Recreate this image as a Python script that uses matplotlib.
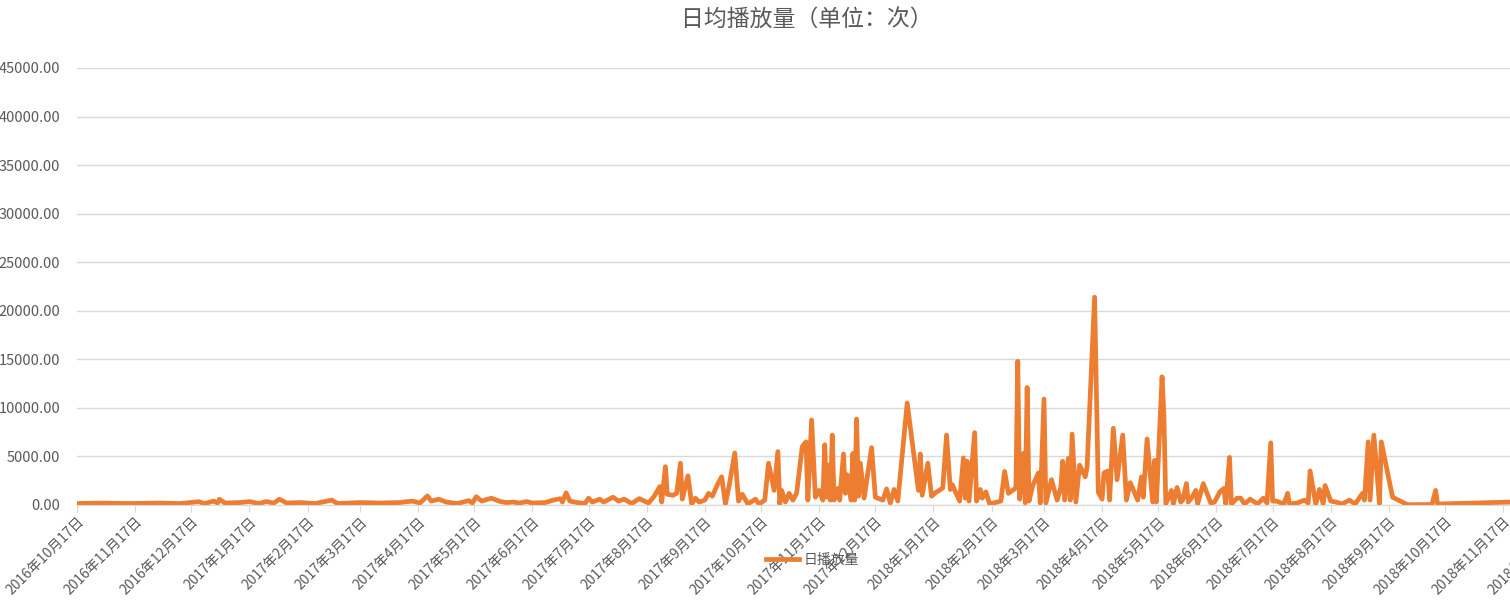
import matplotlib
matplotlib.use("Agg")
import matplotlib.pyplot as plt
import matplotlib.dates as mdates
import pandas as pd

plt.rcParams['font.family'] = ['Noto Sans CJK SC', 'DejaVu Sans']

dates = [
    "2016-10-17", "2016-10-29", "2016-11-14", "2016-11-30", "2016-12-11", "2016-12-21",
    "2016-12-24", "2016-12-29", "2016-12-31", "2017-01-01", "2017-01-04", "2017-01-12",
    "2017-01-17", "2017-01-22", "2017-01-26", "2017-01-30", "2017-02-02", "2017-02-06",
    "2017-02-13", "2017-02-21", "2017-03-02", "2017-03-05", "2017-03-17", "2017-03-28",
    "2017-04-07", "2017-04-14", "2017-04-18", "2017-04-22", "2017-04-24", "2017-04-28",
    "2017-05-02", "2017-05-08", "2017-05-11", "2017-05-14", "2017-05-16", "2017-05-18",
    "2017-05-21", "2017-05-26", "2017-05-31", "2017-06-03", "2017-06-07", "2017-06-10",
    "2017-06-14", "2017-06-17", "2017-06-24", "2017-06-28", "2017-07-02", "2017-07-03",
    "2017-07-05", "2017-07-07", "2017-07-11", "2017-07-15", "2017-07-17", "2017-07-19",
    "2017-07-23", "2017-07-25", "2017-07-27", "2017-07-30", "2017-08-02",
    "2017-08-05", "2017-08-09", "2017-08-13", "2017-08-18",
    "2017-08-21", "2017-08-24", "2017-08-25", "2017-08-27", "2017-08-28", "2017-08-31",
    "2017-09-02", "2017-09-04", "2017-09-05", "2017-09-08", "2017-09-10", "2017-09-12",
    "2017-09-14", "2017-09-17", "2017-09-19", "2017-09-21", "2017-09-24", "2017-09-26",
    "2017-09-28", "2017-09-30", "2017-10-03", "2017-10-05", "2017-10-07", "2017-10-10",
    "2017-10-14", "2017-10-16", "2017-10-19", "2017-10-21", "2017-10-24", "2017-10-26",
    "2017-10-27", "2017-10-28", "2017-10-30", "2017-11-01", "2017-11-03", "2017-11-05",
    "2017-11-08", "2017-11-10", "2017-11-11", "2017-11-13", "2017-11-15", "2017-11-17",
    "2017-11-19", "2017-11-20", "2017-11-21", "2017-11-22", "2017-11-23", "2017-11-24",
    "2017-11-25", "2017-11-27", "2017-11-28", "2017-11-30", "2017-12-01", "2017-12-02",
    "2017-12-04", "2017-12-05", "2017-12-06", "2017-12-07", "2017-12-08", "2017-12-09",
    "2017-12-11", "2017-12-15", "2017-12-17", "2017-12-21", "2017-12-23", "2017-12-25",
    "2017-12-27", "2017-12-29", "2018-01-03", "2018-01-09", "2018-01-10", "2018-01-11",
    "2018-01-14", "2018-01-16", "2018-01-18", "2018-01-22", "2018-01-24", "2018-01-26",
    "2018-01-27", "2018-01-31", "2018-02-02", "2018-02-03", "2018-02-04", "2018-02-05",
    "2018-02-08", "2018-02-09", "2018-02-11", "2018-02-12", "2018-02-14", "2018-02-16",
    "2018-02-22", "2018-02-24", "2018-02-26", "2018-03-02", "2018-03-03", "2018-03-04",
    "2018-03-06", "2018-03-07", "2018-03-08", "2018-03-09", "2018-03-11", "2018-03-14",
    "2018-03-15", "2018-03-17", "2018-03-18", "2018-03-21", "2018-03-24", "2018-03-26",
    "2018-03-27", "2018-03-28", "2018-03-30", "2018-03-31", "2018-04-01", "2018-04-03",
    "2018-04-05", "2018-04-08", "2018-04-09", "2018-04-13", "2018-04-15", "2018-04-17",
    "2018-04-18", "2018-04-20", "2018-04-21", "2018-04-23", "2018-04-25", "2018-04-28",
    "2018-04-30", "2018-05-02", "2018-05-06", "2018-05-08", "2018-05-09", "2018-05-11",
    "2018-05-14", "2018-05-15", "2018-05-16", "2018-05-19", "2018-05-20", "2018-05-21",
    "2018-05-24", "2018-05-25", "2018-05-27", "2018-05-29", "2018-05-30", "2018-06-01",
    "2018-06-02", "2018-06-04", "2018-06-06", "2018-06-07", "2018-06-10", "2018-06-14",
    "2018-06-16", "2018-06-19", "2018-06-21", "2018-06-22", "2018-06-24", "2018-06-25",
    "2018-06-28", "2018-06-30", "2018-07-02", "2018-07-05", "2018-07-09", "2018-07-12",
    "2018-07-14", "2018-07-16", "2018-07-17", "2018-07-19", "2018-07-23", "2018-07-25",
    "2018-07-26", "2018-07-30", "2018-08-03", "2018-08-05", "2018-08-06", "2018-08-09",
    "2018-08-11", "2018-08-13", "2018-08-14", "2018-08-17", "2018-08-20", "2018-08-23",
    "2018-08-27", "2018-08-30", "2018-09-03", "2018-09-04", "2018-09-06", "2018-09-07",
    "2018-09-09", "2018-09-11", "2018-09-12", "2018-09-13", "2018-09-19", "2018-09-27",
    "2018-10-10", "2018-10-12", "2018-10-13", "2018-12-20",
]

views = [
    150, 200, 150, 200, 150, 340,
    150, 400, 200, 590, 200, 250,
    350, 150, 350, 200, 590, 200,
    250, 150, 500, 150, 250, 200,
    250, 400, 200, 930, 400, 600,
    300, 150, 300, 450, 200, 850,
    400, 700, 350, 250, 300, 200,
    350, 200, 250, 500, 650, 300,
    1250, 400, 250, 150, 700, 300,
    600, 300, 500, 800, 400,
    600, 150, 650, 200,
    900, 1900, 300, 3950, 1100, 1000,
    1200, 4300, 600, 3000, 100, 700,
    300, 500, 1200, 900, 2200, 2900,
    100, 2000, 5350, 400, 1100, 100,
    600, 100, 500, 4300, 1500, 5500,
    100, 1500, 300, 1200, 500, 1200,
    6000, 6500, 500, 8750, 800, 1500,
    500, 6200, 800, 4100, 500, 7200,
    500, 1700, 500, 5250, 1200, 3100,
    500, 5300, 500, 8850, 900, 4300,
    700, 5900, 800, 500, 1650, 200,
    1600, 400, 10500, 1500, 5250, 1000,
    4300, 900, 1250, 1750, 7200, 1600,
    2100, 400, 4850, 700, 4500, 400,
    7450, 400, 1600, 700, 1350, 100,
    400, 3450, 1200, 1750, 14800, 600,
    5300, 200, 12100, 400, 2000, 3300,
    200, 10900, 200, 2600, 500, 1800,
    4500, 500, 4800, 500, 7300, 300,
    4100, 2900, 3900, 21400, 1300, 600,
    3300, 3500, 500, 7900, 2600, 7200,
    500, 2300, 500, 2900, 800, 6800,
    300, 4600, 300, 13200, 9200, 100,
    1500, 100, 1800, 300, 500, 2200,
    300, 800, 1500, 100, 2200, 200,
    300, 1400, 1700, 100, 4900, 100,
    700, 700, 100, 600, 100, 700,
    200, 6400, 400, 400, 100, 1200,
    100, 200, 500, 200, 3500, 100,
    1600, 100, 2000, 400, 300, 100,
    500, 100, 1200, 500, 6500, 500,
    7200, 2600, 100, 6500, 800, 30,
    50, 1500, 100, 450,
]

yticks = list(range(0, 45001, 5000))

x = pd.to_datetime(dates)

fig = plt.figure(figsize=(15.10, 6.09), dpi=100)
ax = fig.add_axes([0.051, 0.1708, 0.9854, 0.7176])

ax.plot(x, views, color='#ED7D31', linewidth=3.4, solid_joinstyle='round', label='日播放量')

ax.set_ylim(0, 45000)
ax.set_xlim(pd.Timestamp("2016-10-17"), pd.Timestamp("2018-12-20"))
ax.set_yticks(yticks)
ax.yaxis.set_major_formatter(matplotlib.ticker.FuncFormatter(lambda v, p: f"{v:.2f}"))

ax.xaxis.set_major_locator(mdates.MonthLocator(bymonthday=17))
ax.xaxis.set_major_formatter(matplotlib.ticker.FuncFormatter(
    lambda v, p: "{0}年{1}月{2}日".format(*[int(t) for t in mdates.num2date(v).strftime("%Y %m %d").split()])))

ax.grid(axis='y', color='#D9D9D9', linewidth=1)
ax.set_axisbelow(True)
for s in ['top', 'right', 'left']:
    ax.spines[s].set_visible(False)
ax.spines['bottom'].set_color('#D9D9D9')
ax.tick_params(axis='y', length=0, labelsize=10.5, labelcolor='#595959', pad=12)
ax.tick_params(axis='x', length=5, color='#D9D9D9', labelsize=10, labelcolor='#595959', pad=2)
plt.setp(ax.get_xticklabels(), rotation=45, ha='right', rotation_mode='anchor')

fig.text(0.534, 0.967, '日均播放量（单位：次）', ha='center', va='center', fontsize=16.5, color='#595959')
fig.legend(loc='center', bbox_to_anchor=(0.538, 0.08), frameon=False, fontsize=10,
           handlelength=2.4, labelcolor='#595959', handletextpad=0.3)

fig.savefig('out.png', dpi=100)
